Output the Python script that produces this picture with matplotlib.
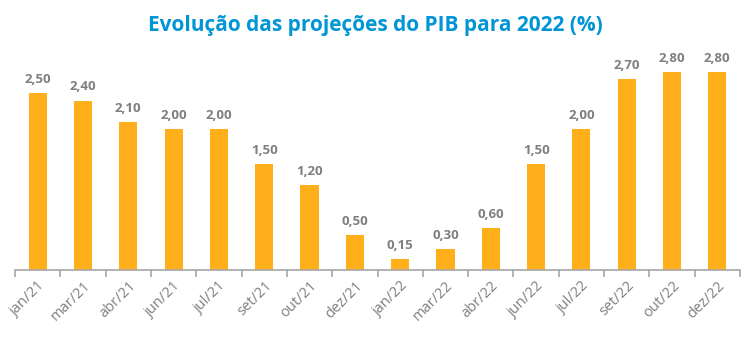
import matplotlib
matplotlib.use("Agg")
import matplotlib.pyplot as plt

categories = ["jan/21", "mar/21", "abr/21", "jun/21", "jul/21", "set/21", "out/21", "dez/21",
              "jan/22", "mar/22", "abr/22", "jun/22", "jul/22", "set/22", "out/22", "dez/22"]
values = [2.50, 2.40, 2.10, 2.00, 2.00, 1.50, 1.20, 0.50, 0.15, 0.30, 0.60, 1.50, 2.00, 2.70, 2.80, 2.80]
title = "Evolução das projeções do PIB para 2022 (%)"

plt.rcParams['font.family'] = ['Open Sans', 'DejaVu Sans']

W, H = 750, 355
fig = plt.figure(figsize=(W/100, H/100), dpi=100)
ax = fig.add_axes([15/W, 1 - 270/H, 725/W, 226/H])

x = list(range(len(categories)))
ax.bar(x, values, width=0.4, color="#FFAF1A", zorder=2)
for xi, v in zip(x, values):
    ax.text(xi, v + 0.1, f"{v:.2f}".replace(".", ","), ha="center", va="bottom",
            fontsize=9.5, fontweight="bold", color="#7F7F7F")

ax.set_xlim(-0.5, len(categories) - 0.5)
ax.set_ylim(0, 3.2)
for s in ["top", "right", "left"]:
    ax.spines[s].set_visible(False)
ax.spines["bottom"].set_color("#A6A6A6")
ax.spines["bottom"].set_linewidth(1.2)
ax.set_yticks([])
ax.set_xticks([i - 0.5 for i in range(len(categories) + 1)], minor=False)
ax.set_xticklabels([])
ax.tick_params(axis="x", which="major", length=5, color="#A6A6A6", width=1.2)
ax.set_xticks(x, minor=True)
ax.set_xticklabels(categories, minor=True, rotation=45, ha="right", rotation_mode="anchor",
                   fontsize=10.5, color="#7F7F7F")
ax.tick_params(axis="x", which="minor", length=0, pad=6)

fig.text(0.5, 1 - 25/H, title, ha="center", va="center", fontsize=15, fontweight="bold",
         color="#0096D6")

fig.savefig("out.png", dpi=100)
